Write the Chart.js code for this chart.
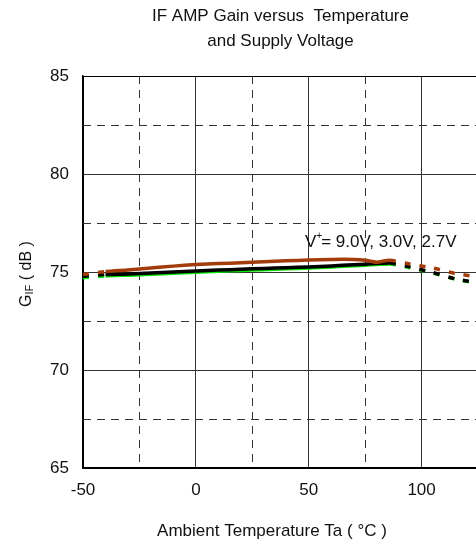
<!DOCTYPE html>
<html>
<head>
<meta charset="utf-8">
<script src="https://cdn.jsdelivr.net/npm/chart.js@4"></script>
<style>
  html, body { margin: 0; padding: 0; background: #fff; overflow: hidden; }
  #wrap { width: 476px; height: 542px; overflow: hidden; }
  #box { width: 490px; height: 542px; }
</style>
</head>
<body>
<div id="wrap"><div id="box"><canvas id="gainChart"></canvas></div></div>
<script>
const temps = [-50, -40, -30, -20, -10, 0, 10, 20, 30, 40, 50, 60, 70, 75, 80, 86, 95, 105, 115, 125];
const gain9V = [74.87, 75.02, 75.1, 75.2, 75.3, 75.38, 75.43, 75.47, 75.52, 75.57, 75.61, 75.64, 75.64, 75.6, 75.5, 75.6, 75.4, 75.2, 74.92, 74.75];
const gain3V = [74.78, 74.87, 74.9, 74.95, 75.0, 75.05, 75.1, 75.14, 75.18, 75.22, 75.26, 75.31, 75.37, 75.4, 75.43, 75.46, 75.25, 74.97, 74.65, 74.45];
const gain27V = [74.7, 74.8, 74.84, 74.89, 74.94, 74.99, 75.04, 75.08, 75.12, 75.16, 75.2, 75.26, 75.32, 75.35, 75.38, 75.41, 75.22, 74.95, 74.63, 74.42];
const xMinorTicks = [-25, 25, 75, 125];
const yMinorTicks = [67.5, 72.5, 77.5, 82.5];

const FONT = "'Liberation Sans', Arial, sans-serif";

function toPoints(vals) {
    return temps.map((t, i) => ({ x: t, y: vals[i] }));
}

// dotted outside the measured range, solid inside
const segStyle = {
    borderDash: ctx => (ctx.p0.parsed.x < -40 || ctx.p0.parsed.x >= 86) ? [6, 9] : undefined
};

function makeSet(label, vals, color) {
    return {
        label: label,
        data: toPoints(vals),
        borderColor: color,
        borderWidth: 3.5,
        pointRadius: 0,
        tension: 0.2,
        fill: false,
        segment: segStyle
    };
}

// dashed minor grid + texts
const extras = {
    id: 'extras',
    beforeDatasetsDraw(chart) {
        const ctx = chart.ctx;
        const area = chart.chartArea;
        const xs = chart.scales.x, ys = chart.scales.y;
        ctx.save();
        ctx.strokeStyle = '#333';
        ctx.lineWidth = 1;
        ctx.setLineDash([8, 6]);
        xMinorTicks.forEach(v => {
            const px = Math.round(xs.getPixelForValue(v)) + 0.5;
            ctx.beginPath();
            ctx.moveTo(px, area.top);
            ctx.lineTo(px, area.bottom);
            ctx.stroke();
        });
        yMinorTicks.forEach(v => {
            const py = Math.round(ys.getPixelForValue(v)) + 0.5;
            ctx.beginPath();
            ctx.moveTo(area.left, py);
            ctx.lineTo(area.right, py);
            ctx.stroke();
        });
        ctx.restore();
    },
    afterDraw(chart) {
        const ctx = chart.ctx;
        const area = chart.chartArea;
        const cx = (area.left + area.right) / 2;
        ctx.save();
        ctx.fillStyle = '#111';
        ctx.textAlign = 'center';
        ctx.textBaseline = 'middle';
        ctx.font = '17px ' + FONT;
        ctx.fillText('IF AMP Gain versus  Temperature', cx, 16);
        ctx.fillText('and Supply Voltage', cx, 41);

        // x axis title
        ctx.fillText('Ambient Temperature Ta ( \u00B0C )', 272, 531);

        // y axis title with subscript
        ctx.translate(25, 274);
        ctx.rotate(-Math.PI / 2);
        ctx.textAlign = 'left';
        ctx.textBaseline = 'alphabetic';
        const big = '16px ' + FONT, small = '11px ' + FONT;
        ctx.font = big;
        const wG = ctx.measureText('G').width;
        const wRest = ctx.measureText(' ( dB )').width;
        ctx.font = small;
        const wIF = ctx.measureText('IF').width;
        let x0 = -(wG + wIF + wRest) / 2;
        ctx.font = big;
        ctx.fillText('G', x0, 6);
        ctx.font = small;
        ctx.fillText('IF', x0 + wG, 8);
        ctx.font = big;
        ctx.fillText(' ( dB )', x0 + wG + wIF, 6);
        ctx.restore();

        // supply voltage note
        ctx.save();
        ctx.fillStyle = '#111';
        ctx.textBaseline = 'alphabetic';
        ctx.textAlign = 'left';
        let tx = 305, ty = 247;
        ctx.font = '17px ' + FONT;
        ctx.fillText('V', tx, ty);
        tx += ctx.measureText('V').width;
        ctx.font = '10px ' + FONT;
        ctx.fillText('+', tx, ty - 8);
        tx += ctx.measureText('+').width - 1;
        ctx.font = '17px ' + FONT;
        ctx.fillText('= 9.0V, 3.0V, 2.7V', tx, ty);
        ctx.restore();
    }
};

const chartCtx = document.getElementById('gainChart').getContext('2d');
new Chart(chartCtx, {
    type: 'line',
    data: {
        datasets: [
            makeSet('9.0V', gain9V, '#a23c0a'),
            makeSet('3.0V', gain3V, '#000000'),
            makeSet('2.7V', gain27V, '#00e600')
        ]
    },
    options: {
        responsive: true,
        maintainAspectRatio: false,
        animation: false,
        layout: { padding: { top: 76, right: 10, left: 0, bottom: 0 } },
        plugins: {
            legend: { display: false },
            tooltip: { enabled: false }
        },
        scales: {
            x: {
                type: 'linear',
                min: -50,
                max: 125,
                afterBuildTicks: axis => {
                    axis.ticks = [-50, 0, 50, 100, 125].map(v => ({ value: v }));
                },
                afterFit: axis => { axis.height = 74; },
                ticks: {
                    color: '#111',
                    font: { family: FONT, size: 17 },
                    padding: 12,
                    maxRotation: 0,
                    callback: v => (v === 125 ? '' : v)
                },
                grid: {
                    color: ctx => (ctx.tick && ctx.tick.value === -50) ? '#000' : '#333',
                    lineWidth: 1,
                    drawTicks: false
                },
                border: { color: '#000', width: 1.5 }
            },
            y: {
                min: 65,
                max: 85,
                afterBuildTicks: axis => {
                    axis.ticks = [65, 70, 75, 80, 85].map(v => ({ value: v }));
                },
                afterFit: axis => { axis.width = 83; },
                ticks: {
                    color: '#111',
                    font: { family: FONT, size: 17 },
                    padding: 14
                },
                grid: {
                    color: ctx => (ctx.tick && (ctx.tick.value === 65 || ctx.tick.value === 85)) ? '#000' : '#333',
                    lineWidth: 1,
                    drawTicks: false
                },
                border: { color: '#000', width: 1.5 }
            }
        }
    },
    plugins: [extras]
});
</script>
</body>
</html>
